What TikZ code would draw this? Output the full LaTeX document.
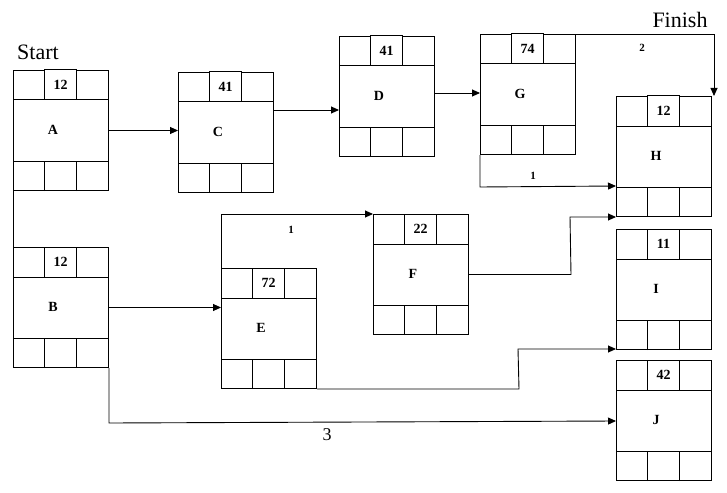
\documentclass[tikz,border=0pt]{standalone}
\usepackage{fontspec}
\setmainfont{Liberation Serif}
\usetikzlibrary{calc,arrows.meta}
\tikzset{x=1pt,y=-1pt,
  pbox/.style={draw,line width=1pt,minimum width=95pt,minimum height=120pt,inner sep=0pt,anchor=north west},
  numbox/.style={draw,line width=1pt,fill=white,minimum width=32pt,minimum height=30pt,inner sep=0pt,font=\bfseries\fontsize{14}{14}\selectfont},
  lab/.style={font=\bfseries\fontsize{14}{14}\selectfont},
  conn/.style={line width=0.9pt,-{Triangle[length=8pt,width=7pt]}},
  plain/.style={line width=0.9pt},
  small/.style={font=\bfseries\fontsize{11}{11}\selectfont}}
\newcommand\pertbox[5]{%
  \node[pbox] (#1) at (#2,#3) {};
  \draw[line width=1pt] ($(#1.north west)+(0,30)$) -- ($(#1.north east)+(0,30)$)
    ($(#1.south west)+(0,-30)$) -- ($(#1.south east)+(0,-30)$)
    ($(#1.north west)+(31.7,0)$) -- ($(#1.north west)+(31.7,30)$)
    ($(#1.north west)+(63.3,0)$) -- ($(#1.north west)+(63.3,30)$)
    ($(#1.south west)+(31.7,0)$) -- ($(#1.south west)+(31.7,-30)$)
    ($(#1.south west)+(63.3,0)$) -- ($(#1.south west)+(63.3,-30)$);
  \node[numbox] (#1n) at ($(#1.north west)+(47.5,15)$) {#4};
  \node[lab] (#1l) at ($(#1.north west)+(40,60)$) {#5};
}
\begin{document}
\begin{tikzpicture}
\useasboundingbox (0,0) rectangle (727,492);
\pertbox{A}{13}{70}{12}{A}
\pertbox{C}{178}{72}{41}{C}
\pertbox{D}{339}{36}{41}{D}
\pertbox{G}{480}{34}{74}{G}
\pertbox{H}{616}{96}{12}{H}
\pertbox{B}{13}{247}{12}{B}
\pertbox{E}{221}{268}{72}{E}
\pertbox{F}{373}{214}{22}{F}
\pertbox{I}{616}{229}{11}{I}
\pertbox{J}{616}{360}{42}{J}
\node[font=\fontsize{22}{22}\selectfont] (st) at (38,52) {Start};
\node[font=\fontsize{22}{22}\selectfont] (fi) at (680,20) {Finish};
\draw[conn] (A.east) -- (A.east -| C.west);
\draw[conn] ($(C.north east)+(0,38)$) -- ($(D.north west)+(0,74)$);
\draw[conn] ($(D.north east)+(0,57)$) -- ($(G.north west)+(0,59)$);
\draw[conn] (G.north east) -- ($(H.north east)+(2,-62)$) node[small,pos=0.5,below=6pt,xshift=-3pt]{2} -- ($(H.north east)+(2,0)$);
\draw[conn] (G.south west) -- ($(G.south west)+(0,32)$) -- node[small,above=3pt,xshift=-15pt]{1} ($(H.north west)+(0,90)$);
\draw[plain] (A.south west) -- (B.north west);
\draw[conn] (B.east) -- (B.east -| E.west);
\draw[conn] (E.north west) -- ($(F.north west)+(-152,0)$) node[small,pos=1,below=8pt,xshift=70pt]{1} -- (F.north west);
\draw[conn] (F.east) -- ($(F.east)+(102,0)$) -- ($(H.south west)+(-46,0)$) -- (H.south west);
\draw[conn] (E.south east) -- ($(E.south east)+(202,0)$) -- ($(I.south west)+(-98,-1)$) -- ($(I.south west)+(0,-1)$);
\draw[conn] (B.south east) -- ($(B.south east)+(0,55)$) -- node[pos=0.43,below=3pt,font=\fontsize{18}{18}\selectfont]{3} ($(J.north west)+(0,61)$);
\end{tikzpicture}
\end{document}
